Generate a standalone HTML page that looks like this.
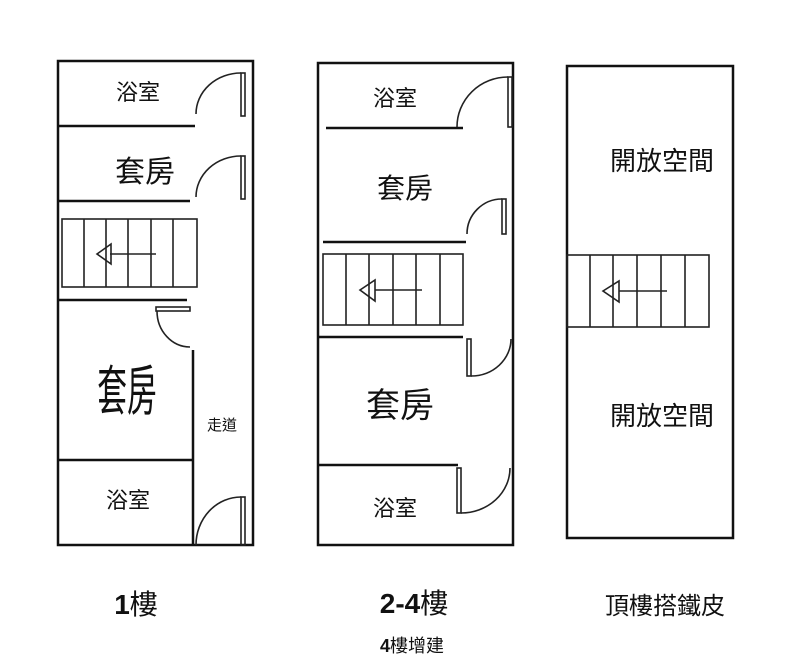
<!DOCTYPE html>
<html><head><meta charset="utf-8"><style>
html,body{margin:0;padding:0;background:#fff;}
svg{display:block;}
text{font-family:"Liberation Sans","Noto Sans CJK TC",sans-serif;fill:#111;}
</style></head><body>
<svg width="800" height="669" viewBox="0 0 800 669" xmlns="http://www.w3.org/2000/svg">
<g stroke="#111" stroke-width="2.5" fill="none">
<rect x="58" y="61" width="195" height="484"/>
<line x1="58" y1="126" x2="195" y2="126"/>
<line x1="58" y1="201" x2="190" y2="201"/>
<line x1="58" y1="300" x2="187" y2="300"/>
<line x1="193" y1="350" x2="193" y2="545"/>
<line x1="58" y1="460" x2="193" y2="460"/>
</g>
<g stroke="#222" stroke-width="1.6" fill="none">
<rect x="62" y="219" width="135" height="68"/>
<line x1="84" y1="219" x2="84" y2="287"/><line x1="106" y1="219" x2="106" y2="287"/>
<line x1="128" y1="219" x2="128" y2="287"/><line x1="151" y1="219" x2="151" y2="287"/>
<line x1="173" y1="219" x2="173" y2="287"/>
<line x1="156" y1="254" x2="110" y2="254"/>
<polygon points="97,254 111,244 111,264"/>
<rect x="241" y="73" width="4" height="43"/>
<path d="M196 114 A45 41 0 0 1 241 73"/>
<rect x="241" y="156" width="4" height="43"/>
<path d="M196 197 A45 41 0 0 1 241 156"/>
<rect x="241" y="497" width="4" height="48"/>
<path d="M196 545 A45 48 0 0 1 241 497"/>
<rect x="156" y="307" width="34" height="4"/>
<path d="M157 311 A33 36 0 0 0 190 347"/>
</g>
<g stroke="#111" stroke-width="2.5" fill="none">
<rect x="318" y="63" width="195" height="482"/>
<line x1="326" y1="128" x2="463" y2="128"/>
<line x1="323" y1="242" x2="466" y2="242"/>
<line x1="318" y1="337" x2="463" y2="337"/>
<line x1="318" y1="465" x2="458" y2="465"/>
</g>
<g stroke="#222" stroke-width="1.6" fill="none">
<rect x="323" y="254" width="140" height="71"/>
<line x1="346" y1="254" x2="346" y2="325"/><line x1="369" y1="254" x2="369" y2="325"/>
<line x1="393" y1="254" x2="393" y2="325"/><line x1="416" y1="254" x2="416" y2="325"/>
<line x1="440" y1="254" x2="440" y2="325"/>
<line x1="422" y1="290" x2="375" y2="290"/>
<polygon points="360,290 375,280 375,301"/>
<rect x="508" y="77" width="4" height="50"/>
<path d="M457 127 A51 50 0 0 1 508 77"/>
<rect x="502" y="199" width="4" height="35"/>
<path d="M467 234 A35 35 0 0 1 502 199"/>
<rect x="467" y="339" width="4" height="37"/>
<path d="M471 376 A40 37 0 0 0 511 339"/>
<rect x="457" y="468" width="4" height="45"/>
<path d="M461 513 A49 45 0 0 0 510 468"/>
</g>
<g stroke="#111" stroke-width="2.5" fill="none">
<rect x="567" y="66" width="166" height="472"/>
</g>
<g stroke="#222" stroke-width="1.6" fill="none">
<rect x="567" y="255" width="142" height="72"/>
<line x1="590" y1="255" x2="590" y2="327"/><line x1="613" y1="255" x2="613" y2="327"/>
<line x1="637" y1="255" x2="637" y2="327"/><line x1="661" y1="255" x2="661" y2="327"/>
<line x1="685" y1="255" x2="685" y2="327"/>
<line x1="667" y1="291" x2="619" y2="291"/>
<polygon points="603,291 619,281 619,302"/>
</g>
<g text-anchor="middle">
<text x="138" y="100" font-size="22">浴室</text>
<text x="145" y="182" font-size="30">套房</text>
<text x="127" y="410" font-size="54" transform="translate(127 0) scale(0.55 1) translate(-127 0)">套房</text>
<text x="222" y="430" font-size="15">走道</text>
<text x="128" y="508" font-size="22">浴室</text>
<text x="395" y="106" font-size="22">浴室</text>
<text x="405" y="198" font-size="28">套房</text>
<text x="400" y="417" font-size="34">套房</text>
<text x="395" y="516" font-size="22">浴室</text>
<text x="662" y="170" font-size="26">開放空間</text>
<text x="662" y="425" font-size="26">開放空間</text>
<text x="136" y="614" font-size="28"><tspan font-weight="bold">1</tspan>樓</text>
<text x="414" y="613" font-size="28"><tspan font-weight="bold">2-4</tspan>樓</text>
<text x="665" y="614" font-size="24">頂樓搭鐵皮</text>
<text x="412" y="652" font-size="18"><tspan font-weight="bold">4</tspan>樓增建</text>
</g>
</svg>
</body></html>
